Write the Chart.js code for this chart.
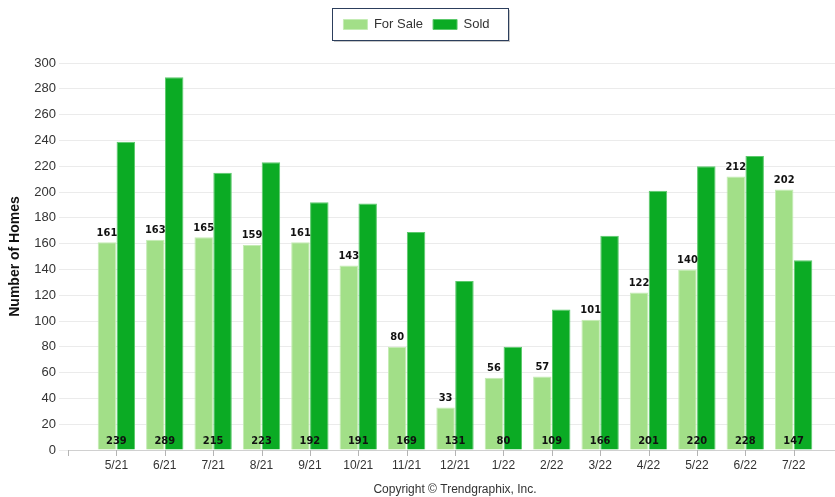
<!DOCTYPE html>
<html>
<head>
<meta charset="utf-8">
<script src="https://cdn.jsdelivr.net/npm/chart.js@4"></script>
<style>
  html, body { margin: 0; padding: 0; background: #fff; overflow: hidden; }
  #wrap { width: 835px; height: 497px; overflow: hidden; position: relative; }
</style>
</head>
<body>
<div id="wrap">
  <canvas id="grafico" width="845" height="497"></canvas>
</div>
<script>
// Dados do gráfico:
const meses = ['', '5/21', '6/21', '7/21', '8/21', '9/21', '10/21', '11/21', '12/21', '1/22', '2/22', '3/22', '4/22', '5/22', '6/22', '7/22', '']
const a_venda = [null, 161, 163, 165, 159, 161, 143, 80, 33, 56, 57, 101, 122, 140, 212, 202, null]
const vendidos = [null, 239, 289, 215, 223, 192, 191, 169, 131, 80, 109, 166, 201, 220, 228, 147, null]

let verde_claro = '#a2df88'
let verde = '#0bab24'
let texto = '#333333'
let fonte = "'Liberation Sans', Arial, sans-serif"
let fonte_rotulo = "'Liberation Sans Narrow', 'DejaVu Sans Condensed', 'Liberation Sans', sans-serif"

// Espaço extra abaixo da legenda (a área do gráfico começa em y=64)
const espacoLegenda = {
  id: 'espacoLegenda',
  beforeInit(chart) {
    const lg = chart.legend
    if (!lg) return
    const fitOriginal = lg.fit
    lg.fit = function () {
      fitOriginal.call(this)
      this.height += 22
    }
  },
  afterUpdate(chart) {
    // Centraliza a legenda na janela visível (835px) e não no canvas
    const lg = chart.legend
    lg.left -= 6
    lg.right -= 6
    lg.adjustHitBoxes()
  }
}

// Moldura e sombra da legenda
const molduraLegenda = {
  id: 'molduraLegenda',
  beforeDraw(chart) {
    const itens = chart.legend.legendHitBoxes
    if (!itens || !itens.length) return
    const ctx = chart.ctx
    let x0 = Math.round(itens[0].left - 11)
    let ult = itens[itens.length - 1]
    let x1 = Math.round(ult.left + ult.width + 18)
    ctx.save()
    ctx.fillStyle = 'rgba(0,0,0,0.22)'
    ctx.fillRect(x0 + 2, 10, x1 - x0, 32)
    ctx.fillStyle = '#fff'
    ctx.fillRect(x0, 8, x1 - x0, 32)
    ctx.strokeStyle = '#2c3e5c'
    ctx.lineWidth = 1
    ctx.strokeRect(x0 + 0.5, 8.5, x1 - x0, 32)
    ctx.restore()
  }
}

// Rótulos dos valores e marcas do eixo X
const rotulos = {
  id: 'rotulos',
  afterDraw(chart) {
    const ctx = chart.ctx
    const x = chart.scales.x
    const y = chart.scales.y
    const base = y.getPixelForValue(0)
    ctx.save()
    // marcas do eixo X (no centro de cada categoria)
    ctx.fillStyle = '#b4b4b4'
    meses.forEach((m, i) => {
      let px = Math.round(x.getPixelForValue(i))
      ctx.fillRect(px, base, 1, 6)
    })
    ctx.font = 'bold 11px ' + fonte_rotulo
    ctx.fillStyle = '#111'
    ctx.textAlign = 'center'
    chart.getDatasetMeta(0).data.forEach((bar, i) => {
      if (a_venda[i] == null) return
      ctx.textBaseline = 'bottom'
      ctx.fillText(a_venda[i], bar.x, bar.y - 4)
    })
    vendidos.forEach((v, i) => {
      if (v == null) return
      ctx.textBaseline = 'middle'
      ctx.fillText(v, x.getPixelForValue(i), base - 9)
    })
    ctx.restore()
  }
}

const c_grafico = document.getElementById('grafico').getContext('2d')
new Chart(c_grafico, {
  type: 'bar',
  data: {
    labels: meses,
    datasets: [{
      label: 'For Sale',
      data: a_venda,
      backgroundColor: verde_claro,
      borderColor: '#c4ecb4',
      borderWidth: 1,
      barPercentage: 0.98,
      categoryPercentage: 0.78
    }, {
      label: 'Sold',
      data: vendidos,
      backgroundColor: verde,
      borderColor: '#5cc96c',
      borderWidth: 1,
      barPercentage: 0.98,
      categoryPercentage: 0.78
    }]
  },
  options: {
    responsive: false,
    animation: false,
    layout: { padding: { top: 8, left: 0, right: 0, bottom: 0 } },
    scales: {
      x: {
        offset: false,
        grid: { offset: false, drawOnChartArea: false, drawTicks: true, tickLength: 5, color: 'rgba(0,0,0,0)' },
        border: { color: '#d0d0d0' },
        ticks: { color: texto, font: { family: fonte, size: 12 }, autoSkip: false, maxRotation: 0, padding: 3 },
        title: { display: true, text: 'Copyright © Trendgraphix, Inc.', color: texto, font: { family: fonte, size: 12 }, padding: { top: 8, bottom: 0 } },
        afterFit(scale) { scale.height = 47 }
      },
      y: {
        min: 0,
        max: 300,
        ticks: { stepSize: 20, color: texto, font: { family: fonte, size: 13 }, padding: 3 },
        grid: { color: '#ebebeb', tickLength: 9 },
        border: { display: false },
        title: { display: true, text: 'Number of Homes', color: '#111', font: { family: fonte, size: 14, weight: 'bold' }, padding: { top: 7, bottom: 0 } },
        afterFit(scale) { scale.width = 68 }
      }
    },
    plugins: {
      legend: {
        display: true,
        labels: { boxWidth: 24, boxHeight: 10, color: texto, font: { family: fonte, size: 13 }, padding: 10 }
      },
      tooltip: { enabled: false }
    }
  },
  plugins: [espacoLegenda, molduraLegenda, rotulos]
})
</script>
</body>
</html>
